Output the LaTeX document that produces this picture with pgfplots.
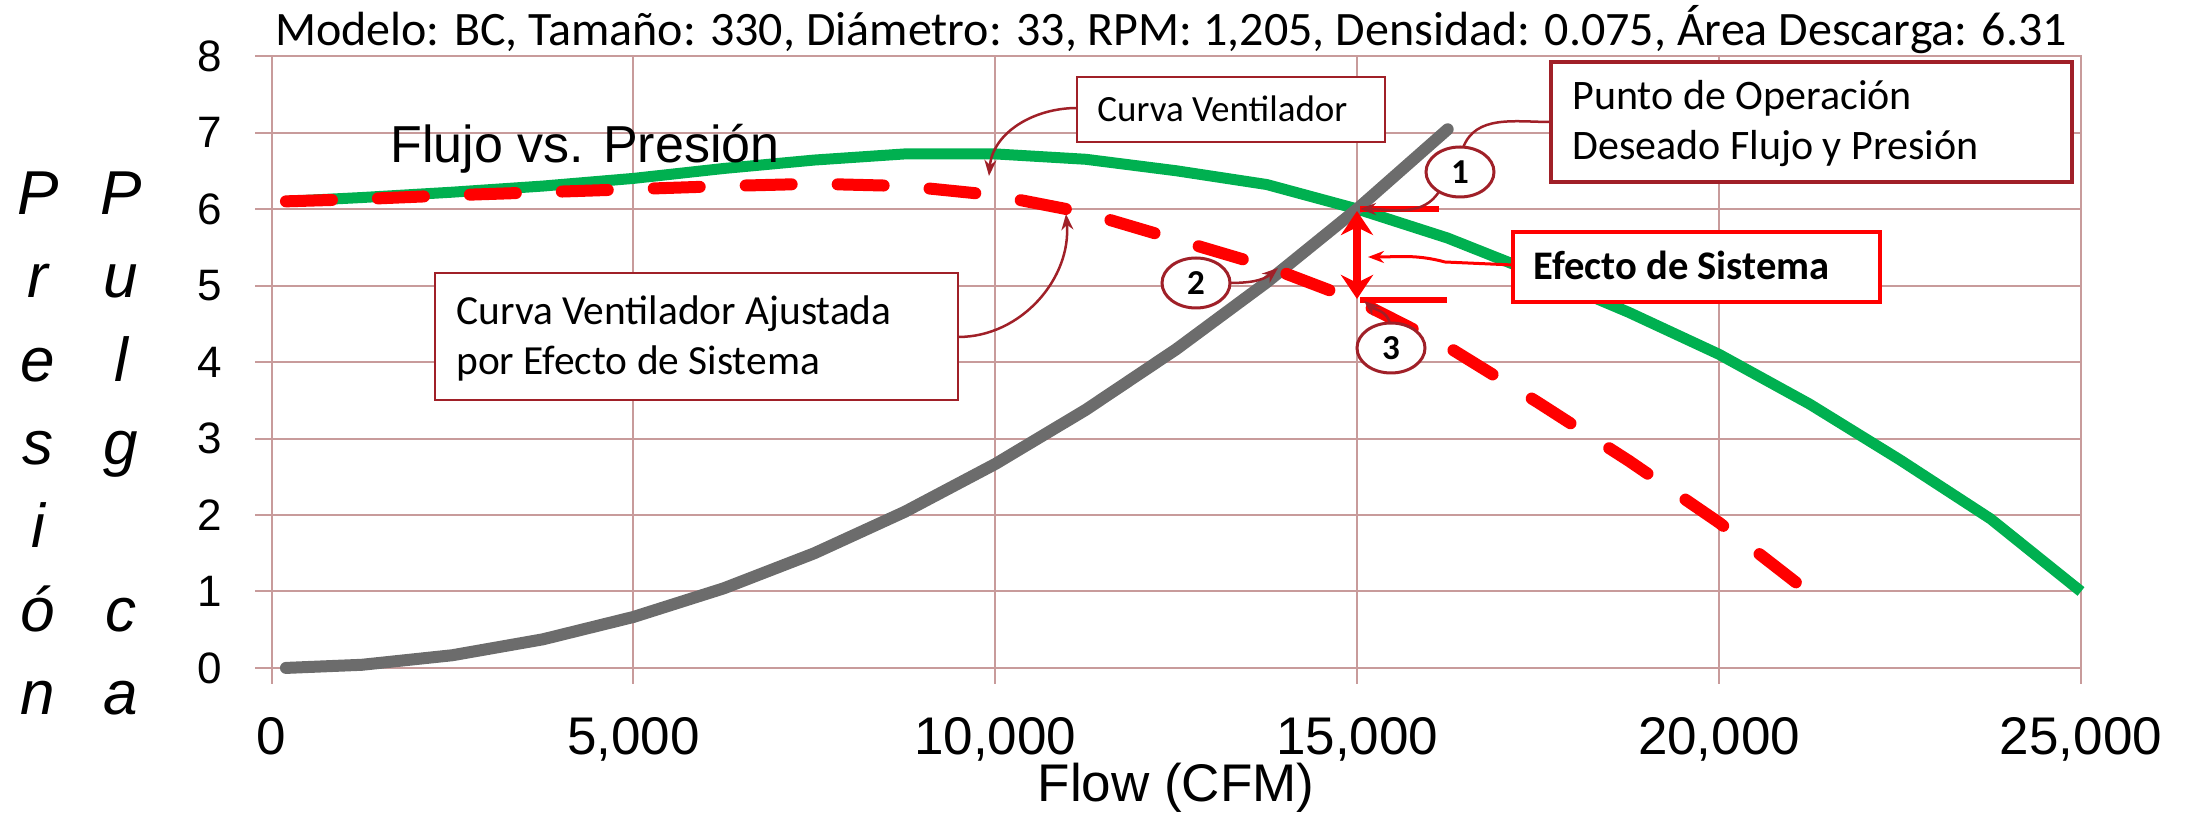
\documentclass[border=0pt]{standalone}
\usepackage{fontspec}
\setmainfont{Liberation Sans}
\newfontfamily\calfont{Carlito}
\usepackage{pgfplots}
\pgfplotsset{compat=1.18}
\usetikzlibrary{arrows.meta}
\definecolor{gridc}{RGB}{200,155,155}
\definecolor{fgreen}{RGB}{0,176,80}
\definecolor{fgray}{RGB}{108,108,108}
\definecolor{dred}{RGB}{160,32,40}
\begin{document}
\begin{tikzpicture}
\useasboundingbox (0,0) rectangle (1096pt,407pt);
\begin{axis}[
  at={(135.75pt,73pt)}, anchor=south west,
  width=904.75pt, height=306pt, scale only axis,
  xmin=0, xmax=25000, ymin=0, ymax=8,
  xtick={0,5000,10000,15000,20000,25000},
  ytick={0,1,2,3,4,5,6,7,8},
  scaled x ticks=false,
  /pgf/number format/.cd, 1000 sep={,}, assume math mode=true, /pgfplots/.cd,
  grid=major,
  grid style={gridc, line width=1pt},
  axis line style={gridc, line width=1pt},
  tick style={gridc, line width=1pt},
  tick align=outside, tick pos=left,
  major tick length=8pt,
  x tick label style={font=\fontsize{26.5}{30}\selectfont, yshift=-13pt},
  y tick label style={font=\fontsize{22}{26}\selectfont, xshift=-13pt},
  clip=false,
]
\addplot[fgreen, line width=5.5pt, line join=round] table {
x y
200 6.10
1250 6.15
2500 6.22
3750 6.30
5000 6.40
6250 6.53
7500 6.64
8750 6.72
10000 6.72
11250 6.65
12500 6.50
13750 6.32
15000 6.00
16250 5.62
17500 5.15
18750 4.65
20000 4.10
21250 3.45
22500 2.72
23750 1.95
25000 1.00
};
\addplot[fgray, line width=6pt, line join=round, line cap=round] table {
x y
200 0.001
1250 0.042
2500 0.167
3750 0.375
5000 0.667
6250 1.042
7500 1.500
8750 2.042
10000 2.667
11250 3.375
12500 4.167
13750 5.042
15000 6.000
16250 7.042
};
\addplot[red, line width=6pt, line join=round, line cap=round, dash pattern=on 23pt off 23pt] table {
x y
200 6.10
1250 6.13
2500 6.18
3750 6.22
5000 6.26
6250 6.30
7500 6.33
8750 6.30
10000 6.18
11250 5.95
12500 5.60
13750 5.25
15000 4.80
16250 4.20
17500 3.47
18750 2.71
20000 1.90
21250 0.98
};
\end{axis}
\begin{scope}[yshift=407pt, x=0.5pt, y=-0.5pt]
% title
\node[anchor=base, inner sep=0] at (1171,46) {\calfont\fontsize{24}{28}\selectfont Modelo: BC, Tamaño: 330, Diámetro: 33, RPM: 1,205, Densidad: 0.075, Área Descarga: 6.31};
% x label
\node[anchor=base, inner sep=0] at (1176,802) {\fontsize{26.5}{30}\selectfont Flow (CFM)};
% chart inner title
\node[anchor=base west, inner sep=0] at (390,163) {\fontsize{26}{30}\selectfont Flujo vs. Presión};
% y label stacked
\foreach \c/\yy in {P/215, r/298, e/382, s/465, i/548, ó/632, n/715}
  \node[anchor=base, inner sep=0] at (38,\yy) {\fontsize{31}{34}\selectfont\itshape \c};
\foreach \c/\yy in {P/215, u/298, l/382, g/465, c/632, a/715}
  \node[anchor=base, inner sep=0] at (121,\yy) {\fontsize{31}{34}\selectfont\itshape \c};
% Curva Ventilador box
\draw[dred, line width=1.25pt, -{Stealth[length=8pt,width=6pt]}] (1077,108) to[out=180,in=85] (989,176);
\draw[dred, line width=1.25pt, fill=white] (1077,77) rectangle (1385,142);
\node[anchor=base west, inner sep=0] at (1097,122) {\calfont\fontsize{18.5}{22}\selectfont Curva Ventilador};
% Ajustada box
\draw[dred, line width=1.25pt, -{Stealth[length=8pt,width=6pt]}] (958,337) to[out=0,in=-85] (1066,214);
\draw[dred, line width=1.25pt, fill=white] (435,273) rectangle (958,400);
\node[anchor=base west, inner sep=0] at (456,325) {\calfont\fontsize{20.7}{24}\selectfont Curva Ventilador Ajustada};
\node[anchor=base west, inner sep=0] at (456,375) {\calfont\fontsize{20.7}{24}\selectfont por Efecto de Sistema};
% Punto box
\draw[dred, line width=1.25pt] (1551,122) to[out=180,in=70] (1463,148);
\draw[dred, line width=2pt, fill=white] (1551,62) rectangle (2072,182);
\node[anchor=base west, inner sep=0] at (1572,110) {\calfont\fontsize{21}{24}\selectfont Punto de Operación};
\node[anchor=base west, inner sep=0] at (1572,160) {\calfont\fontsize{21}{24}\selectfont Deseado Flujo y Presión};
% red markers
\draw[red, line width=3pt] (1360,209) -- (1439,209);
\draw[red, line width=3pt] (1360,300) -- (1447,300);
\draw[red, line width=4pt, {Stealth[length=12pt,width=16pt]}-{Stealth[length=12pt,width=16pt]}] (1357,211) -- (1357,299);
% circle 1
\draw[dred, line width=1.25pt, -{Stealth[length=8pt,width=6pt]}] (1440,190) to[out=240,in=0] (1360,209);
\draw[dred, line width=1.5pt, fill=white] (1460,172) ellipse [x radius=34, y radius=25];
\node[inner sep=0] at (1460,172) {\calfont\bfseries\fontsize{17.5}{20}\selectfont 1};
% Efecto box
\draw[red, line width=1.5pt, -{Stealth[length=8pt,width=6pt]}] (1513,265) -- (1445,262) to[out=165,in=0] (1368,257);
\draw[red, line width=2pt, fill=white] (1513,232) rectangle (1880,302);
\node[anchor=base west, inner sep=0] at (1533,280) {\calfont\bfseries\fontsize{20.3}{24}\selectfont Efecto de Sistema};
% circle 2
\draw[dred, line width=1.25pt, -{Stealth[length=8pt,width=6pt]}] (1228,283) to[out=0,in=220] (1278,268);
\draw[dred, line width=1.5pt, fill=white] (1196,283) ellipse [x radius=34, y radius=25];
\node[inner sep=0] at (1196,283) {\calfont\bfseries\fontsize{17.5}{20}\selectfont 2};
% circle 3
\draw[dred, line width=1.25pt, -{Stealth[length=8pt,width=6pt]}] (1390,324) to[out=100,in=-40] (1364,301);
\draw[dred, line width=1.5pt, fill=white] (1391,348) ellipse [x radius=34, y radius=25];
\node[inner sep=0] at (1391,348) {\calfont\bfseries\fontsize{17.5}{20}\selectfont 3};
\end{scope}
\end{tikzpicture}
\end{document}
